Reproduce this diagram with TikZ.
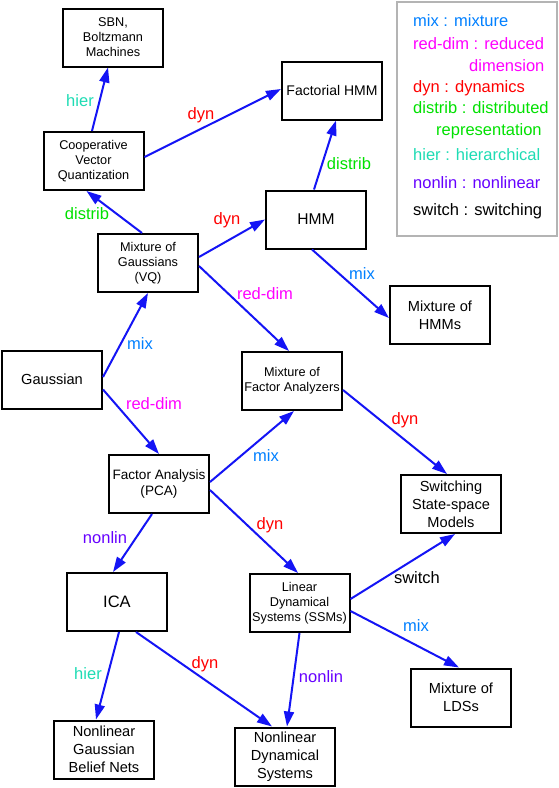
\documentclass[tikz,border=0pt]{standalone}
\usepackage{fontspec}
\setmainfont{Liberation Sans}
\usetikzlibrary{arrows.meta}
\definecolor{arrowc}{RGB}{20,20,245}
\definecolor{mixc}{RGB}{0,128,255}
\definecolor{reddimc}{RGB}{255,0,255}
\definecolor{dync}{RGB}{255,0,0}
\definecolor{distribc}{RGB}{0,225,0}
\definecolor{hierc}{RGB}{30,220,180}
\definecolor{nonlinc}{RGB}{102,0,255}
\definecolor{legc}{RGB}{180,180,180}
\begin{document}
\begin{tikzpicture}[x=1pt,y=-1pt,
  box/.style={draw=black, line width=2pt, minimum width=100pt, minimum height=58pt, inner sep=0pt, align=center, text=black},
  fs/.style={font=\fontsize{12.7}{15}\selectfont},
  fm/.style={font=\fontsize{13.6}{15.5}\selectfont},
  fl/.style={font=\fontsize{14.6}{17.8}\selectfont},
  arr/.style={draw=arrowc, line width=2pt, -{Triangle[length=15pt,width=10pt]}},
  lab/.style={font=\fontsize{16.5}{18}\selectfont, inner sep=0pt},
  leg/.style={font=\fontsize{16.5}{18}\selectfont, inner sep=0pt, anchor=base west},
]
\useasboundingbox (0,0) rectangle (558,788);
\fill[white] (0,0) rectangle (558,788);

% legend
\draw[legc, line width=2.5pt] (397,2) rectangle (557,236);
\node[leg, text=mixc] (l1) at (413,26) {mix : mixture};
\node[leg, text=reddimc] (l2) at (413,49) {red-dim : reduced};
\node[leg, text=reddimc] (l2b) at (469,71) {dimension};
\node[leg, text=dync] (l3) at (413,92) {dyn : dynamics};
\node[leg, text=distribc] (l4) at (413,113) {distrib : distributed};
\node[leg, text=distribc] (l4b) at (436,135) {representation};
\node[leg, text=hierc] (l5) at (413,160) {hier : hierarchical};
\node[leg, text=nonlinc] (l6) at (413,188) {nonlin : nonlinear};
\node[leg, text=black] (l7) at (413,215) {switch : switching};

% boxes
\node[box, fs] (sbn) at (113,37.5) {SBN,\\Boltzmann\\Machines};
\node[box, fs] (cvq) at (93.5,161) {Cooperative\\Vector\\Quantization};
\node[box, font=\fontsize{14}{16}\selectfont] (fhmm) at (332,90.5) {Factorial HMM};
\node[box, fs] (mog) at (148,263) {Mixture of\\Gaussians\\(VQ)};
\node[box, font=\fontsize{15.6}{18}\selectfont] (hmm) at (316,219.5) {HMM};
\node[box, fl] (mixhmm) at (440,315) {Mixture of\\HMMs};
\node[box, fs] (mfa) at (292,381) {Mixture of\\Factor Analyzers};
\node[box, fl] (gauss) at (52,379.5) {Gaussian};
\node[box, fm] (fa) at (159,484) {Factor Analysis\\(PCA)};
\node[box, font=\fontsize{16.5}{18}\selectfont] (ica) at (117,602) {ICA};
\node[box, fl] (ngbn) at (104,749.5) {Nonlinear\\Gaussian\\Belief Nets};
\node[box, fl] (sssm) at (451,504) {Switching\\State-space\\Models};
\node[box, fs] (lds) at (299.5,603) {Linear\\Dynamical\\Systems (SSMs)};
\node[box, fl] (mixlds) at (461,697.5) {Mixture of\\LDSs};
\node[box, fl] (nds) at (285,756.5) {Nonlinear\\Dynamical\\Systems};

% connectors
\draw[arr] ([xshift=-1.5pt]cvq.north) -- ([xshift=-5pt]sbn.south);
\draw[arr] ([yshift=4pt]cvq.east) -- ([yshift=1.5pt]fhmm.west);
\draw[arr] ([xshift=-6pt]mog.north) -- ([xshift=-7pt]cvq.south);
\draw[arr] ([yshift=6pt]mog.east) -- (hmm.west);
\draw[arr] ([xshift=-2pt]hmm.north) -- ([xshift=4pt]fhmm.south);
\draw[arr] ([xshift=-4pt]hmm.south) -- ([yshift=-3pt]mixhmm.west);
\draw[arr] ([yshift=-3pt]mog.east) -- ([xshift=-3pt]mfa.north);
\draw[arr] ([yshift=2.5pt]gauss.east) -- (mog.south);
\draw[arr] ([yshift=-10pt]gauss.east) -- (fa.north);
\draw[arr] ([yshift=2pt]fa.east) -- ([xshift=2pt]mfa.south);
\draw[arr] ([yshift=-9pt]mfa.east) -- ([xshift=-4pt]sssm.north);
\draw[arr] ([yshift=-6pt]fa.east) -- ([xshift=-1.5pt]lds.north);
\draw[arr] ([xshift=-7pt]fa.south) -- ([xshift=-4pt]ica.north);
\draw[arr] ([xshift=2pt]ica.south) -- ([xshift=-8pt]ngbn.north);
\draw[arr] ([xshift=19pt]ica.south) -- ([xshift=-13pt]nds.north);
\draw[arr] ([yshift=4pt]lds.east) -- ([xshift=4pt]sssm.south);
\draw[arr] ([yshift=-8pt]lds.east) -- ([xshift=-2pt]mixlds.north);
\draw[arr] (lds.south) -- ([xshift=2pt]nds.north);

% connector labels
\node[lab, text=hierc] (t1) at (80,101) {hier};
\node[lab, text=dync] (t2) at (201,115) {dyn};
\node[lab, text=distribc] (t3) at (87,214) {distrib};
\node[lab, text=dync] (t4) at (227,220) {dyn};
\node[lab, text=distribc] (t5) at (349,164) {distrib};
\node[lab, text=mixc] (t6) at (362,274) {mix};
\node[lab, text=reddimc] (t7) at (265,294) {red-dim};
\node[lab, text=mixc] (t8) at (140,344) {mix};
\node[lab, text=reddimc] (t9) at (154,404) {red-dim};
\node[lab, text=mixc] (t10) at (266,456) {mix};
\node[lab, text=dync] (t11) at (405,420) {dyn};
\node[lab, text=dync] (t12) at (270,525) {dyn};
\node[lab, text=nonlinc] (t13) at (105,538) {nonlin};
\node[lab, text=hierc] (t14) at (88,674) {hier};
\node[lab, text=dync] (t15) at (205,664) {dyn};
\node[lab, text=black] (t16) at (417,578) {switch};
\node[lab, text=mixc] (t17) at (416,626) {mix};
\node[lab, text=nonlinc] (t18) at (321,677) {nonlin};
\end{tikzpicture}
\end{document}
